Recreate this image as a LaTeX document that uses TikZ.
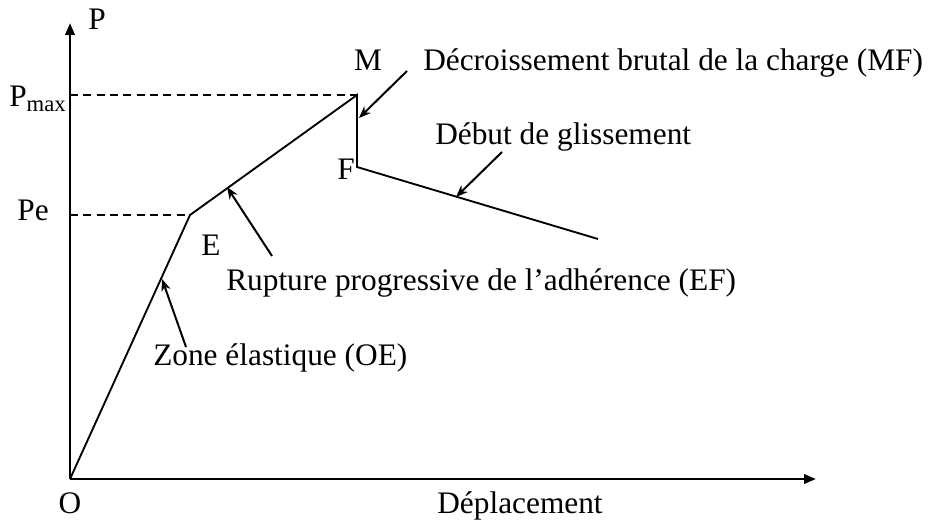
\documentclass[tikz,border=0pt]{standalone}
\usepackage{fontspec}
\setmainfont{Liberation Serif}
\usetikzlibrary{arrows.meta}
\begin{document}
\begin{tikzpicture}[x=0.75pt,y=-0.75pt,
  lbl/.style={font=\fontsize{23.5pt}{27pt}\selectfont, inner sep=0pt},
  axisline/.style={line width=1.9pt,-{Triangle[length=9pt,width=7pt]}},
  curve/.style={line width=1.4pt},
  guide/.style={line width=1.1pt, dash pattern=on 6pt off 4pt},
  pointer/.style={line width=1.5pt,-{Stealth[length=9pt,width=7pt]}}]
\useasboundingbox (0,0) rectangle (937,520);
% key points
\coordinate (O) at (70,479);
\coordinate (Ytop) at (70,23);
\coordinate (Xend) at (816,479);
\coordinate (E) at (190,215);
\coordinate (M) at (357,95);
\coordinate (F) at (357,167);
\coordinate (G) at (598,239);
\coordinate (YPm) at (70,95);
\coordinate (YPe) at (70,215);
% axes
\draw[axisline] (O) -- (Ytop);
\draw[axisline] (O) -- (Xend);
% guides
\draw[guide] (YPm) -- (M);
\draw[guide] (YPe) -- (E);
% curve
\draw[curve,line join=miter] (O) -- (E) -- (M) -- (F) -- (G);
% labels
\node[lbl,anchor=base] (lP) at (97,30) {P};
\node[lbl,anchor=base west] (lPm) at (9,107) {P\textsubscript{\fontsize{17pt}{18pt}\selectfont max}};
\node[lbl,anchor=base] (lPe) at (33,220) {Pe};
\node[lbl,anchor=base] (lO) at (70,513) {O};
\node[lbl,anchor=base] (lX) at (520,513) {Déplacement};
\node[lbl,anchor=base] (lE) at (211,255) {E};
\node[lbl,anchor=base] (lM) at (368,71) {M};
\node[lbl,anchor=base] (lF) at (346,180) {F};
\node[lbl,anchor=base west] (tMF) at (423,71) {Décroissement brutal de la charge (MF)};
\node[lbl,anchor=base west] (tG) at (435,145) {Début de glissement};
\node[lbl,anchor=base west] (tEF) at (226,290) {Rupture progressive de l’adhérence (EF)};
\node[lbl,anchor=base west] (tOE) at (153,365) {Zone élastique (OE)};
% pointer arrows
\coordinate (aMFs) at (407,71);  \coordinate (aMFe) at (359,118);
\coordinate (aGs) at (502,152);  \coordinate (aGe) at (456,197);
\coordinate (aEFs) at (272,256); \coordinate (aEFe) at (227,187);
\coordinate (aOEs) at (186,347); \coordinate (aOEe) at (162,279);
\draw[pointer] (aMFs) -- (aMFe);
\draw[pointer] (aGs) -- (aGe);
\draw[pointer] (aEFs) -- (aEFe);
\draw[pointer] (aOEs) -- (aOEe);
\end{tikzpicture}
\end{document}
